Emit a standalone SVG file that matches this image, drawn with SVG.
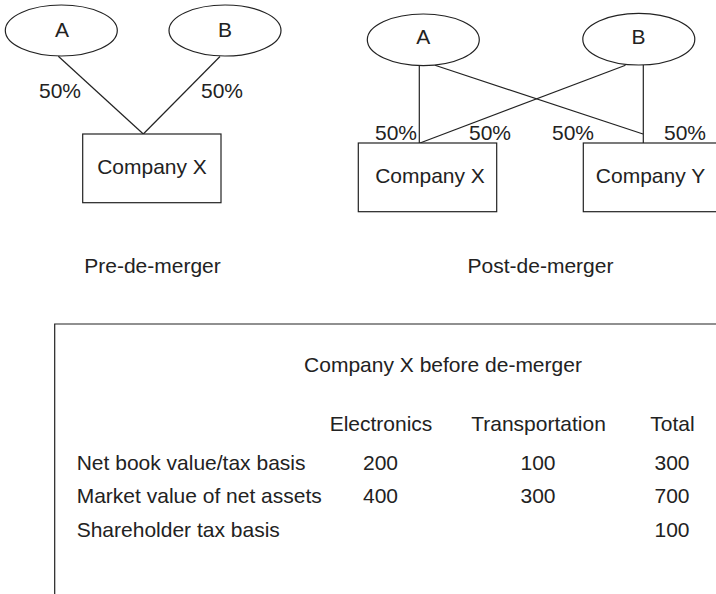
<svg xmlns="http://www.w3.org/2000/svg" width="716" height="594" viewBox="0 0 716 594">
  <style>
    .shape { fill: #ffffff; stroke: #222222; stroke-width: 1.2; }
    .wire { fill: none; stroke: #222222; stroke-width: 1.2; }
    text { font-family: "Liberation Sans", Arial, sans-serif; font-size: 21px; fill: #222222; }
    .c { text-anchor: middle; }
  </style>
  <rect width="716" height="594" fill="#ffffff"/>

  <!-- ownership lines -->
  <g id="connectors">
    <line class="wire" x1="58.3" y1="56.3" x2="143.3" y2="134"/>
    <line class="wire" x1="220" y1="56.5" x2="143.3" y2="134"/>
    <line class="wire" x1="419.3" y1="65.7" x2="419.3" y2="143"/>
    <line class="wire" x1="435" y1="65.2" x2="643" y2="134"/>
    <line class="wire" x1="643.3" y1="65" x2="643.3" y2="143"/>
    <line class="wire" x1="625.5" y1="65.3" x2="420" y2="143"/>
  </g>

  <!-- before the de-merger -->
  <g id="pre-a">
    <ellipse class="shape" cx="61.3" cy="30.5" rx="56" ry="25.5"/>
    <text class="c" x="62" y="37">A</text>
  </g>
  <g id="pre-b">
    <ellipse class="shape" cx="225" cy="30.5" rx="56" ry="25.5"/>
    <text class="c" x="225" y="37">B</text>
  </g>
  <g id="pre-x">
    <rect class="shape" x="82.7" y="134" width="138.3" height="68.7"/>
    <text class="c" x="152" y="174">Company X</text>
  </g>
  <g id="pre-labels">
    <text class="c" x="60" y="98.3">50%</text>
    <text class="c" x="222" y="98.3">50%</text>
    <text class="c" x="152.5" y="272.5">Pre-de-merger</text>
  </g>

  <!-- after the de-merger -->
  <g id="post-a">
    <ellipse class="shape" cx="423.3" cy="39.8" rx="56" ry="25.8"/>
    <text class="c" x="423.3" y="44.3">A</text>
  </g>
  <g id="post-b">
    <ellipse class="shape" cx="638.8" cy="39.2" rx="56" ry="25.8"/>
    <text class="c" x="638.5" y="44.3">B</text>
  </g>
  <g id="post-x">
    <rect class="shape" x="358.3" y="143" width="138.4" height="68.7"/>
    <text class="c" x="430" y="183">Company X</text>
  </g>
  <g id="post-y">
    <rect class="shape" x="583.3" y="143" width="150" height="68.7"/>
    <text class="c" x="650.5" y="183">Company Y</text>
  </g>
  <g id="post-labels">
    <text class="c" x="396" y="140">50%</text>
    <text class="c" x="490" y="140">50%</text>
    <text class="c" x="573" y="140">50%</text>
    <text class="c" x="685" y="140">50%</text>
    <text class="c" x="540.5" y="272.5">Post-de-merger</text>
  </g>

  <!-- balance table -->
  <g id="table">
    <path class="wire" d="M716,324 H54.7 V594"/>
    <text class="c" x="443" y="372">Company X before de-merger</text>
    <text class="c" x="381" y="431">Electronics</text>
    <text class="c" x="538.5" y="431">Transportation</text>
    <text class="c" x="672.5" y="431">Total</text>

    <text x="76.7" y="470">Net book value/tax basis</text>
    <text class="c" x="380.5" y="470">200</text>
    <text class="c" x="538" y="470">100</text>
    <text class="c" x="672" y="470">300</text>

    <text x="76.7" y="503">Market value of net assets</text>
    <text class="c" x="380.5" y="503">400</text>
    <text class="c" x="538" y="503">300</text>
    <text class="c" x="672" y="503">700</text>

    <text x="76.7" y="536.5">Shareholder tax basis</text>
    <text class="c" x="672" y="536.5">100</text>
  </g>
</svg>
